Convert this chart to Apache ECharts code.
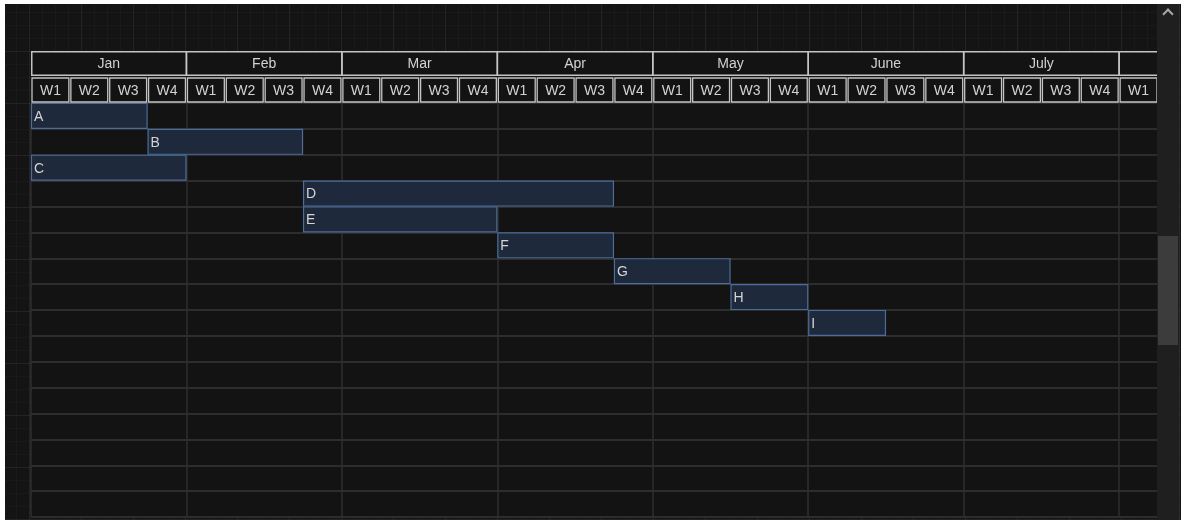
<!DOCTYPE html>
<html>
<head>
<meta charset="utf-8">
<script src="https://cdn.jsdelivr.net/npm/echarts@6/dist/echarts.min.js"></script>
<style>
  html, body { margin: 0; padding: 0; width: 1182px; height: 520px; background: #ffffff; overflow: hidden; }
  #bg {
    position: absolute; left: 5px; top: 4px; width: 1176px; height: 516px;
    background-color: #141414;
    background-image:
      linear-gradient(to right, rgba(255,255,255,0.045) 1px, transparent 1px),
      linear-gradient(to bottom, rgba(255,255,255,0.045) 1px, transparent 1px),
      linear-gradient(to right, rgba(255,255,255,0.018) 1px, transparent 1px),
      linear-gradient(to bottom, rgba(255,255,255,0.018) 1px, transparent 1px);
    background-size: 52px 52px, 52px 52px, 13px 13px, 13px 13px;
    background-position: 24px 0, 0 47px, 24px 0, 0 47px;
  }
  #chart { position: absolute; left: 0; top: 0; width: 1182px; height: 520px; }
  #track { position: absolute; left: 1157px; top: 4px; width: 22px; height: 516px; background: #1f1f1f; border-right: 1px solid #2c2c2c; }
  #thumb { position: absolute; left: 1158px; top: 236px; width: 20px; height: 109px; background: #3c3c3c; }
  #caret { position: absolute; left: 1164px; top: 10px; width: 6px; height: 6px;
    border-left: 2px solid #a8a8a8; border-top: 2px solid #a8a8a8; transform: rotate(45deg); }
</style>
</head>
<body>
<div id="bg"></div>
<div id="chart"></div>
<div id="track"></div>
<div id="thumb"></div>
<div id="caret"></div>
<script>
// ---- data ----
const months = ['Jan', 'Feb', 'Mar', 'Apr', 'May', 'June', 'July', ''];
const weekLabels = ['W1', 'W2', 'W3', 'W4'];
const tasks = ['A', 'B', 'C', 'D', 'E', 'F', 'G', 'H', 'I'];
const taskStartWeek = [0, 3, 0, 7, 7, 12, 15, 18, 20];
const taskEndWeek = [3, 7, 4, 15, 12, 15, 18, 20, 22];
const rowCount = 16;
const visibleWeeks = 29;

// ---- derived ----
const rows = Array.from({ length: rowCount }, (_, i) => String(i));
const taskData = tasks.map((t, i) => [taskStartWeek[i], taskEndWeek[i], i]);
const headerData = [];
const headerText = [];
months.forEach((m, mi) => {
  headerData.push([mi * 4, mi * 4 + 4, 0]);
  headerText.push(m);
});
months.forEach((m, mi) => {
  weekLabels.forEach((w, wi) => {
    headerData.push([mi * 4 + wi, mi * 4 + wi + 1, 1]);
    headerText.push(w);
  });
});

const FONT = '"Liberation Sans", Arial, sans-serif';
const chart = echarts.init(document.getElementById('chart'), null, { renderer: 'canvas' });
chart.setOption({
  backgroundColor: 'transparent',
  animation: false,
  grid: [
    { left: 31, right: 24, top: 103, bottom: 3, show: true, backgroundColor: '#131313', borderWidth: 0 },
    { left: 31, right: 24, top: 51, height: 52, show: true, backgroundColor: '#131313', borderWidth: 0 }
  ],
  xAxis: [
    { gridIndex: 0, type: 'value', min: 0, max: visibleWeeks, interval: 4,
      axisLine: { show: false }, axisTick: { show: false }, axisLabel: { show: false },
      splitLine: { show: true, lineStyle: { color: '#2f2f2f', width: 1.5 } } },
    { gridIndex: 1, type: 'value', min: 0, max: visibleWeeks,
      axisLine: { show: false }, axisTick: { show: false }, axisLabel: { show: false }, splitLine: { show: false } }
  ],
  yAxis: [
    { gridIndex: 0, type: 'category', data: rows, inverse: true,
      axisLine: { show: false }, axisTick: { show: false }, axisLabel: { show: false },
      splitLine: { show: true, lineStyle: { color: '#2d2d2d', width: 2 } } },
    { gridIndex: 1, type: 'category', data: ['month', 'week'], inverse: true,
      axisLine: { show: false }, axisTick: { show: false }, axisLabel: { show: false }, splitLine: { show: false } }
  ],
  series: [
    {
      type: 'custom',
      xAxisIndex: 1, yAxisIndex: 1,
      clip: true,
      encode: { x: [0, 1], y: 2 },
      data: headerData,
      renderItem: function (params, api) {
        const row = api.value(2);
        const s = api.coord([api.value(0), row]);
        const e = api.coord([api.value(1), row]);
        const h = api.size([0, 1])[1];
        const isWeek = row === 1;
        let x, w;
        if (isWeek) {
          x = s[0] + 1; w = e[0] - s[0] - 2;
        } else {
          const leftPad = api.value(0) === 0 ? 0.75 : 0;
          x = s[0] + leftPad; w = e[0] - s[0] - leftPad;
        }
        const y = isWeek ? s[1] - h / 2 + 1 : s[1] - h / 2 + 0.75;
        const hh = isWeek ? h - 2 : h - 2.5;
        return {
          type: 'group',
          children: [
            { type: 'rect', shape: { x: x, y: y, width: w, height: hh },
              style: { fill: 'transparent', stroke: '#c4c4c4', lineWidth: isWeek ? 1.3 : 1.5 } },
            { type: 'text', style: { text: headerText[params.dataIndex], x: (s[0] + e[0]) / 2, y: y + hh / 2 + 1,
              align: 'center', verticalAlign: 'middle', fill: '#d2d2d2', font: '14px ' + FONT } }
          ]
        };
      }
    },
    {
      type: 'custom',
      xAxisIndex: 0, yAxisIndex: 0,
      clip: true,
      encode: { x: [0, 1], y: 2 },
      data: taskData,
      renderItem: function (params, api) {
        const row = api.value(2);
        const s = api.coord([api.value(0), row]);
        const e = api.coord([api.value(1), row]);
        const h = api.size([0, 1])[1];
        return {
          type: 'group',
          children: [
            { type: 'rect', shape: { x: s[0] + 0.5, y: s[1] - h / 2 + 0.5, width: e[0] - s[0] - 1, height: h - 1 },
              style: { fill: '#1e293c', stroke: '#4d6c99', lineWidth: 1.2 } },
            { type: 'text', style: { text: tasks[params.dataIndex], x: s[0] + 3, y: s[1] + 1,
              align: 'left', verticalAlign: 'middle', fill: '#d4d4d4', font: '14px ' + FONT } }
          ]
        };
      }
    }
  ]
});
</script>
</body>
</html>
